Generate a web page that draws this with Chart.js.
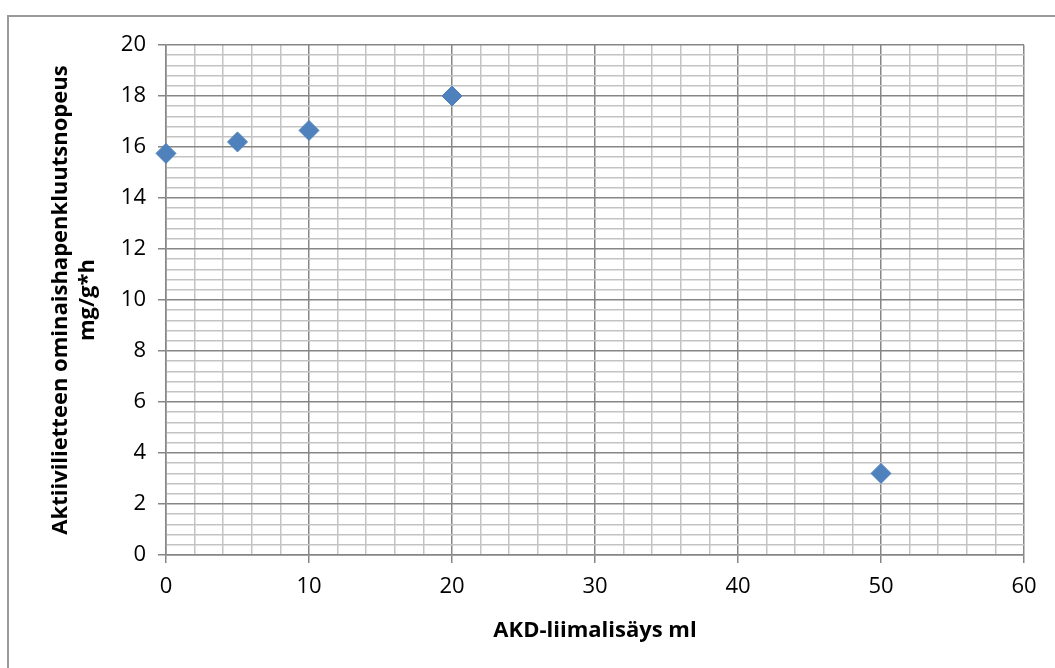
<!DOCTYPE html>
<html>
<head>
<meta charset="utf-8">
<script src="https://cdn.jsdelivr.net/npm/chart.js@4"></script>
<style>
    body { margin:0; background:#ffffff; }
    #frame { position:absolute; left:7px; top:15px; width:1100px; height:700px; border:2px solid #9a9a9a; box-sizing:border-box; }
    #wrap { position:absolute; left:0; top:0; width:1055px; height:668px; }
</style>
</head>
<body>
<div id="frame"></div>
<div id="wrap"><canvas id="myChart" width="1055" height="668"></canvas></div>
<script>
// AKD-liimalisäys (ml) vs. ominaishapenkulutusnopeus
let xValues = [0, 5, 10, 20, 50];
let yValues = [15.75, 16.2, 16.65, 18.0, 3.2];
let xTicks = [0, 10, 20, 30, 40, 50, 60];
let yTicks = [0, 2, 4, 6, 8, 10, 12, 14, 16, 18, 20];

let xTitle = "AKD-liimalisäys ml";
let yTitle = ["Aktiivilietteen ominaishapenkluutsnopeus", "mg/g*h"];

let majorColor = "#868686";
let minorColor = "#c3c3c3";

function isMajor(value, list)
{
    for (let i = 0; i < list.length; i++) {
        if (Math.abs(value - list[i]) < 1e-6) return true;
    }
    return false;
}

function drawScatter()
{
    let points = [];
    for (let i = 0; i < xValues.length; i++) {
        points.push({ x: xValues[i], y: yValues[i] });
    }

    let tickFont = { family: "'Open Sans', sans-serif", size: 22 };
    let titleFont = { family: "'Open Sans', sans-serif", size: 22, weight: "bold" };

    let ctx = document.getElementById("myChart");
    new Chart(ctx, {
        type: "scatter",
        data: {
            datasets: [{
                data: points,
                clip: false,
                pointStyle: "rectRot",
                pointRadius: 10,
                pointHoverRadius: 10,
                backgroundColor: "#4f81bd",
                borderColor: "#4f81bd",
                borderWidth: 1
            }]
        },
        options: {
            responsive: false,
            animation: false,
            events: [],
            layout: { padding: { left: 0, right: 31, top: 45, bottom: 20 } },
            plugins: { legend: { display: false }, tooltip: { enabled: false } },
            scales: {
                x: {
                    type: "linear",
                    min: 0,
                    max: 60,
                    afterFit: function(scale) { scale.height = 668 - 20 - 555; },
                    border: { color: majorColor, width: 1.5 },
                    grid: {
                        lineWidth: 1.5,
                        tickLength: 8,
                        color: function(c) { return isMajor(c.tick.value, xTicks) ? majorColor : minorColor; },
                        tickColor: function(c) { return isMajor(c.tick.value, xTicks) ? majorColor : "rgba(0,0,0,0)"; }
                    },
                    ticks: {
                        stepSize: 2,
                        autoSkip: false,
                        maxRotation: 0,
                        padding: 11,
                        color: "#000000",
                        font: tickFont,
                        callback: function(v) { return isMajor(v, xTicks) ? String(Math.round(v)) : ""; }
                    },
                    title: { display: true, text: xTitle, color: "#000000", font: titleFont, padding: { top: 0, bottom: 4 } }
                },
                y: {
                    type: "linear",
                    min: 0,
                    max: 20,
                    afterFit: function(scale) { scale.width = 166; },
                    border: { color: majorColor, width: 1.5 },
                    grid: {
                        lineWidth: 1.5,
                        tickLength: 8,
                        color: function(c) { return isMajor(c.tick.value, yTicks) ? majorColor : minorColor; },
                        tickColor: function(c) { return isMajor(c.tick.value, yTicks) ? majorColor : "rgba(0,0,0,0)"; }
                    },
                    ticks: {
                        stepSize: 0.4,
                        autoSkip: false,
                        padding: 12,
                        color: "#000000",
                        font: tickFont,
                        callback: function(v) { return isMajor(v, yTicks) ? String(Math.round(v)) : ""; }
                    },
                    title: { display: true, text: yTitle, color: "#000000", font: titleFont, padding: { top: 48, bottom: 0 } }
                }
            }
        }
    });
}

drawScatter();
</script>
</body>
</html>
